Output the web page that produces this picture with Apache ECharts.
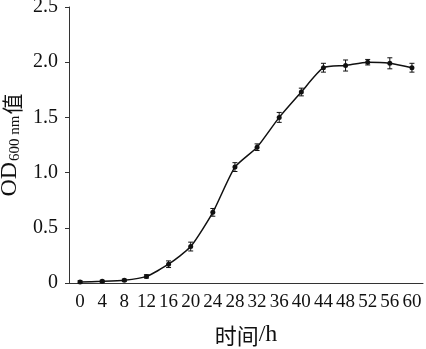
<!DOCTYPE html>
<html><head><meta charset="utf-8">
<script src="https://cdn.jsdelivr.net/npm/echarts@6/dist/echarts.min.js"></script>
<style>html,body{margin:0;padding:0;background:#fff}#c{width:426px;height:349px}</style>
</head><body><div id="c"></div>
<script>
const hours = ['0','4','8','12','16','20','24','28','32','36','40','44','48','52','56','60'];
const od = [0.01,0.015,0.025,0.06,0.17,0.33,0.64,1.05,1.23,1.50,1.73,1.95,1.97,2.00,1.99,1.95];
const err = [0.01,0.01,0.01,0.015,0.03,0.04,0.035,0.04,0.03,0.045,0.035,0.04,0.05,0.025,0.05,0.04];
const yTicks = ['0','0.5','1.0','1.5','2.0','2.5'];

const chart = echarts.init(document.getElementById('c'), null, {renderer:'canvas'});
const serif = 'Liberation Serif, Times New Roman, serif';
chart.setOption({
  animation:false,
  backgroundColor:'#fff',
  grid:{left:69,right:3,top:7,bottom:66, containLabel:false, outerBoundsMode:'none'},
  xAxis:{
    type:'category', data:hours, boundaryGap:true,
    name:'{c|时间}{h|/h}', nameLocation:'middle', nameGap:38,
    nameTextStyle:{rich:{
      c:{fontFamily:'Noto Sans CJK SC', fontSize:22, color:'#111', verticalAlign:'bottom', lineHeight:26},
      h:{fontFamily:serif, fontSize:24, color:'#111', verticalAlign:'bottom', lineHeight:26}
    }},
    axisLine:{lineStyle:{color:'#333',width:1}},
    axisTick:{alignWithLabel:true, length:5, lineStyle:{color:'#333'}},
    axisLabel:{fontFamily:serif, fontSize:19, color:'#111', margin:10, interval:0, hideOverlap:false}
  },
  yAxis:{
    type:'value', min:0, max:2.5, interval:0.5,
    name:'{a|OD}{s|600 nm}{c|值}', nameLocation:'middle', nameGap:40, nameRotate:90,
    nameTextStyle:{rich:{
      a:{fontFamily:serif, fontSize:24, color:'#111', verticalAlign:'bottom', lineHeight:28},
      s:{fontFamily:serif, fontSize:15, color:'#111', verticalAlign:'bottom', lineHeight:26, padding:[0,1,0,1]},
      c:{fontFamily:'Noto Sans CJK SC', fontSize:21, color:'#111', verticalAlign:'bottom', lineHeight:28}
    }},
    splitLine:{show:false},
    axisLine:{show:true, lineStyle:{color:'#333',width:1}},
    axisTick:{show:true, length:4, lineStyle:{color:'#333'}},
    axisLabel:{fontFamily:serif, fontSize:20, color:'#111', margin:11,
      formatter:(v)=>{const i=Math.round(v/0.5); return yTicks[i]!==undefined?yTicks[i]:'';}}
  },
  series:[
    {type:'line', data:od, smooth:0.2, symbol:'circle', symbolSize:5,
     lineStyle:{color:'#111',width:1.5}, itemStyle:{color:'#111'}, z:3},
    {type:'custom', z:4,
     data: od.map((v,i)=>[i,v,err[i]]),
     renderItem:(params, api)=>{
       const x = api.value(0), m = api.value(1), e = api.value(2);
       const top = api.coord([x, m+e]), bot = api.coord([x, m-e]);
       const cap = 2.5;
       const st = {stroke:'#111', lineWidth:1};
       return {type:'group', children:[
         {type:'line', shape:{x1:top[0],y1:top[1],x2:bot[0],y2:bot[1]}, style:st},
         {type:'line', shape:{x1:top[0]-cap,y1:top[1],x2:top[0]+cap,y2:top[1]}, style:st},
         {type:'line', shape:{x1:bot[0]-cap,y1:bot[1],x2:bot[0]+cap,y2:bot[1]}, style:st}
       ]};
     }}
  ]
});
</script></body></html>
